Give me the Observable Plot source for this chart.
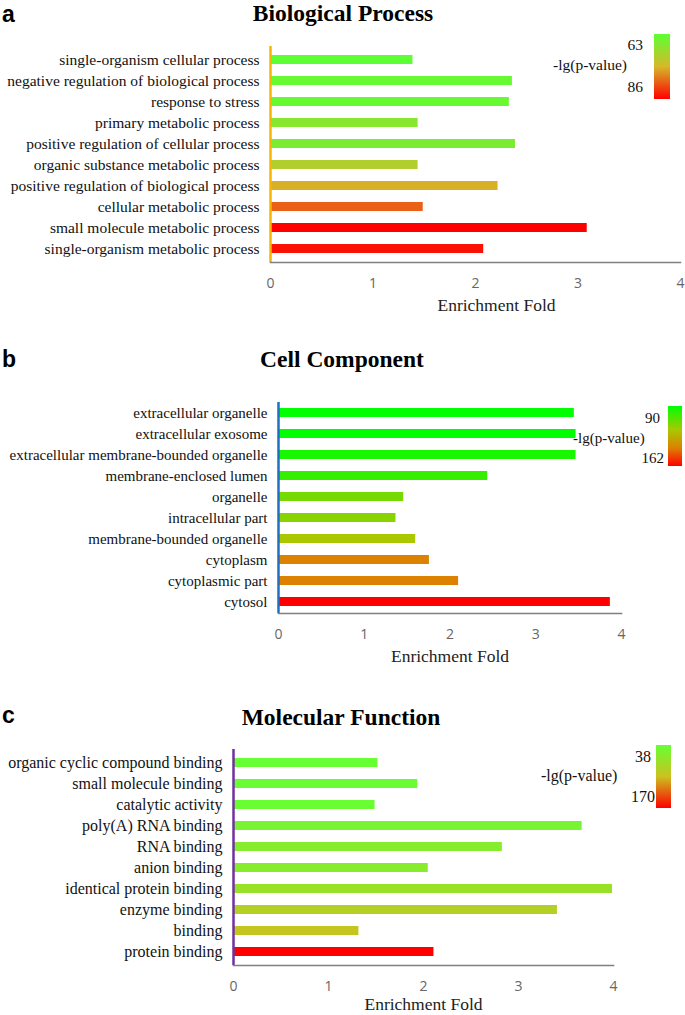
<!DOCTYPE html>
<html><head><meta charset="utf-8">
<script src="https://cdn.jsdelivr.net/npm/d3@7"></script>
<script src="https://cdn.jsdelivr.net/npm/@observablehq/plot@0.6"></script>
<style>
html,body{margin:0;padding:0;background:#fff;}
#wrap{position:relative;width:685px;height:1015px;overflow:hidden;background:#fff;}
#wrap svg.panel{position:absolute;left:0;}
#overlay{position:absolute;left:0;top:0;pointer-events:none;}
</style></head><body><div id="wrap"></div>
<script>
// ---------- data ----------
const panelLetters = ["a", "b", "c"];
const panelTitles = ["Biological Process", "Cell Component", "Molecular Function"];
const axisTitle = ["Enrichment Fold"];
const legendTitle = "-lg(p-value)";
const xTicks = [0, 1, 2, 3, 4];

const termsA = ["single-organism cellular process", "negative regulation of biological process", "response to stress",
  "primary metabolic process", "positive regulation of cellular process", "organic substance metabolic process",
  "positive regulation of biological process", "cellular metabolic process", "small molecule metabolic process",
  "single-organism metabolic process"];
const foldA = [1.39, 2.36, 2.33, 1.44, 2.39, 1.44, 2.22, 1.49, 3.09, 2.08];
const lgpA = [63, 64, 64, 67, 66, 71, 75, 80, 86, 85];
const legendA = [63, 86];

const termsB = ["extracellular organelle", "extracellular exosome", "extracellular membrane-bounded organelle",
  "membrane-enclosed lumen", "organelle", "intracellular part", "membrane-bounded organelle", "cytoplasm",
  "cytoplasmic part", "cytosol"];
const foldB = [3.45, 3.47, 3.47, 2.44, 1.46, 1.37, 1.60, 1.76, 2.10, 3.87];
const lgpB = [90, 90, 94, 99, 110, 113, 119, 140, 140, 162];
const legendB = [90, 162];

const termsC = ["organic cyclic compound binding", "small molecule binding", "catalytic activity", "poly(A) RNA binding",
  "RNA binding", "anion binding", "identical protein binding", "enzyme binding", "binding", "protein binding"];
const foldC = [1.52, 1.94, 1.49, 3.67, 2.83, 2.05, 3.99, 3.41, 1.32, 2.11];
const lgpC = [38, 39, 40, 49, 58, 60, 71, 89, 101, 170];
const legendC = [38, 170];

// ---------- layout / style ----------
const panels = [
  {terms: termsA, folds: foldA, lgp: lgpA, legend: legendA,
   top: 0, height: 335, marginTop: 46, marginBottom: 73, marginLeft: 270, marginRight: 5,
   yFont: 15.5, axisColor: "#f7b500", titleDx: 21, titleDy: 43,
   stops: [0, 0.5, 1], colors: ["#5cff33", "#d6b82a", "#ff0000"],
   letterY: 22, titleX: 343, titleY: 21,
   leg: {x: 654, y: 34, w: 16, h: 65, numEnd: 643, num1Y: 50, num2Y: 92, titleX: 553, titleY: 70, font: 15.5}},
  {terms: termsB, folds: foldB, lgp: lgpB, legend: legendB,
   top: 335, height: 335, marginTop: 67, marginBottom: 57, marginLeft: 278, marginRight: 64,
   yFont: 15, axisColor: "#1f6fc5", titleDx: 0, titleDy: 43,
   stops: [0, 0.4, 0.7, 1], colors: ["#00ff00", "#aac800", "#dd8000", "#ff0000"],
   letterY: 367, titleX: 342, titleY: 367,
   leg: {x: 668, y: 406, w: 14, h: 60, numEnd: 660, num1Y: 423, num2Y: 463, titleX: 573, titleY: 443, font: 15}},
  {terms: termsC, folds: foldC, lgp: lgpC, legend: legendC,
   top: 670, height: 345, marginTop: 79, marginBottom: 50, marginLeft: 233, marginRight: 72,
   yFont: 16, axisColor: "#7030a0", titleDx: 0, titleDy: 39,
   stops: [0, 0.5, 1], colors: ["#66ff33", "#cbc21f", "#ff0000"],
   letterY: 723, titleX: 341, titleY: 725,
   leg: {x: 656, y: 745, w: 15, h: 63, numEnd: 651, num1Y: 762, num2Y: 802, titleX: 541, titleY: 781, font: 16}}
];

const wrap = document.getElementById("wrap");

panels.forEach((p) => {
  const data = p.terms.map((t, i) => ({term: t, fold: p.folds[i], lgp: p.lgp[i]}));
  const [lo, hi] = p.legend;
  const domain = p.stops.map(s => lo + s * (hi - lo));
  const svg = Plot.plot({
    width: 685, height: p.height,
    marginTop: p.marginTop, marginBottom: p.marginBottom, marginLeft: p.marginLeft, marginRight: p.marginRight,
    style: {background: "transparent"},
    x: {domain: [0, 4]},
    y: {domain: p.terms, paddingInner: 0.55, paddingOuter: 0.275, align: 0.5},
    color: {type: "linear", domain, range: p.colors, interpolate: "rgb"},
    marks: [
      Plot.barX(data, {x: "fold", y: "term", fill: "lgp"}),
      Plot.ruleX([0], {stroke: p.axisColor, strokeWidth: 2.5}),
      Plot.frame({anchor: "bottom", stroke: "#7f7f7f", strokeWidth: 1.6}),
      Plot.axisX({ticks: xTicks, tickSize: 0, tickPadding: 16, fontSize: 14, fontFamily: "Open Sans",
        fill: "#666", label: null, tickFormat: d => String(d)}),
      Plot.axisY({tickSize: 0, tickPadding: 11, fontSize: p.yFont, fontFamily: "Liberation Serif",
        fill: "#111", label: null}),
      Plot.text(axisTitle, {frameAnchor: "bottom", text: d => d, dx: p.titleDx, dy: p.titleDy, lineAnchor: "middle",
        fontSize: 17.5, fontFamily: "Liberation Serif", fill: "#222"})
    ]
  });
  svg.classList.add("panel");
  svg.style.top = p.top + "px";
  wrap.appendChild(svg);
});

// ---------- overlay: panel letters, titles, colour legends ----------
const ov = d3.select(wrap).append("svg").attr("id", "overlay").attr("width", 685).attr("height", 1015);
const defs = ov.append("defs");

panels.forEach((p, i) => {
  ov.append("text").text(panelLetters[i]).attr("x", 2).attr("y", p.letterY)
    .attr("font-family", "Liberation Sans").attr("font-weight", "bold").attr("font-size", 23).attr("fill", "#000");
  ov.append("text").text(panelTitles[i]).attr("x", p.titleX).attr("y", p.titleY).attr("text-anchor", "middle")
    .attr("font-family", "Liberation Serif").attr("font-weight", "bold").attr("font-size", 23.5).attr("fill", "#000");

  const g = defs.append("linearGradient").attr("id", "grad" + i)
    .attr("x1", 0).attr("y1", 0).attr("x2", 0).attr("y2", 1);
  p.stops.forEach((s, k) => g.append("stop").attr("offset", s).attr("stop-color", p.colors[k]));
  const L = p.leg;
  ov.append("rect").attr("x", L.x).attr("y", L.y).attr("width", L.w).attr("height", L.h).attr("fill", `url(#grad${i})`);
  ov.append("text").text(p.legend[0]).attr("x", L.numEnd).attr("y", L.num1Y).attr("text-anchor", "end")
    .attr("font-family", "Liberation Serif").attr("font-size", L.font).attr("fill", "#111");
  ov.append("text").text(p.legend[1]).attr("x", L.numEnd + (i === 0 ? 0 : 4)).attr("y", L.num2Y).attr("text-anchor", "end")
    .attr("font-family", "Liberation Serif").attr("font-size", L.font).attr("fill", "#111");
  ov.append("text").text(legendTitle).attr("x", L.titleX).attr("y", L.titleY)
    .attr("font-family", "Liberation Serif").attr("font-size", L.font).attr("fill", "#111");
});
</script>
</body></html>
